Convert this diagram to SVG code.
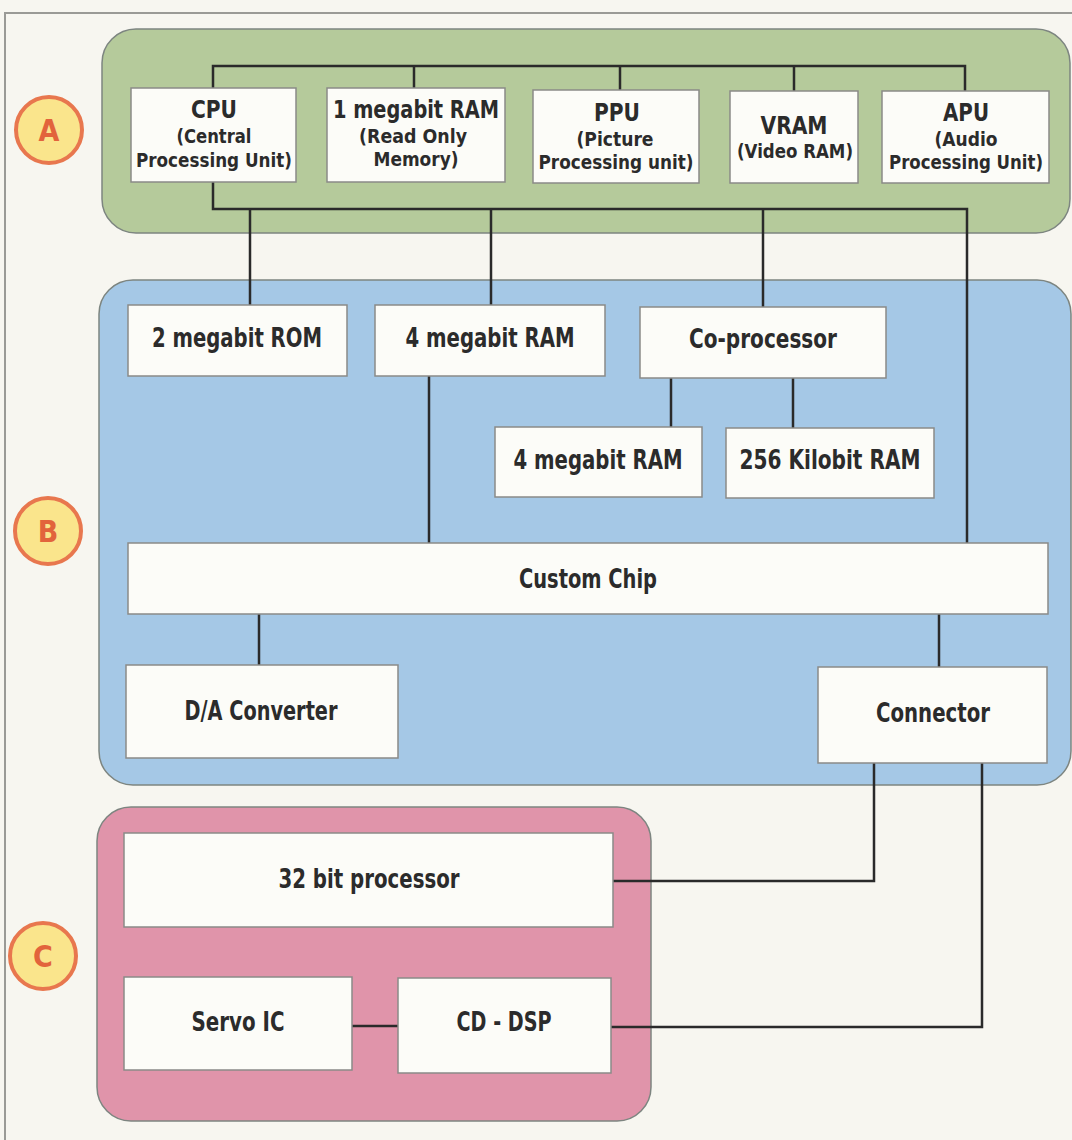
<svg xmlns="http://www.w3.org/2000/svg" width="1072" height="1140" viewBox="0 0 1072 1140">
<style>
.bg{fill:#f7f6f0}
.frame{fill:none;stroke:#9a9a96;stroke-width:2}
.panel{stroke:#7d8580;stroke-width:1.5}
.pa{fill:#b5ca9b}
.pb{fill:#a5c8e6}
.pc{fill:#e094aa}
.box{fill:#fcfcf8;stroke:#8a8a88;stroke-width:1.5}
.t{font-family:"Liberation Sans Narrow","DejaVu Sans Condensed","Liberation Sans",sans-serif;font-weight:bold;fill:#2b2b2b;text-anchor:middle}
.h{font-size:25px}
.s{font-size:20px}
.m{font-size:26px}
.wire{fill:none;stroke:#2a2a2a;stroke-width:2.5}
.badge circle{fill:#fae58c;stroke:#e8774e;stroke-width:4}
.badge text{font-family:"Liberation Sans Narrow","DejaVu Sans Condensed","Liberation Sans",sans-serif;font-weight:bold;font-size:30px;fill:#e2643c;text-anchor:middle}
</style>
<rect class="bg" x="0" y="0" width="1072" height="1140"/>
<path class="frame" d="M5,1140 V13 H1072"/>

<g id="panels">
<rect id="panel-a" class="panel pa" x="102" y="29" width="968" height="204" rx="34"/>
<rect id="panel-b" class="panel pb" x="99" y="280" width="972" height="505" rx="34"/>
<rect id="panel-c" class="panel pc" x="97" y="807" width="554" height="314" rx="34"/>
</g>

<g id="badges">
<g id="badge-a" class="badge"><circle cx="49" cy="130" r="33"/><text x="49" y="141">A</text></g>
<g id="badge-b" class="badge"><circle cx="48" cy="531" r="33"/><text x="48" y="542">B</text></g>
<g id="badge-c" class="badge"><circle cx="43" cy="956" r="33"/><text x="43" y="967">C</text></g>
</g>

<g id="connectors">
<path class="wire" d="M213,88 V66 H965 V91"/>
<path class="wire" d="M414,66 V88"/>
<path class="wire" d="M620,66 V90"/>
<path class="wire" d="M794,66 V91"/>
<path class="wire" d="M213,182 V209 H967 V543"/>
<path class="wire" d="M250,209 V305"/>
<path class="wire" d="M491,209 V305"/>
<path class="wire" d="M763,209 V307"/>
<path class="wire" d="M429,376 V543"/>
<path class="wire" d="M671,378 V428"/>
<path class="wire" d="M793,378 V428"/>
<path class="wire" d="M259,614 V665"/>
<path class="wire" d="M939,614 V667"/>
<path class="wire" d="M874,763 V881 H613"/>
<path class="wire" d="M982,763 V1027 H611"/>
<path class="wire" d="M352,1026 H398"/>
</g>

<g id="cpu"><rect class="box" x="131" y="88" width="165" height="94"/>
<text class="t h" x="214" y="118" textLength="46" lengthAdjust="spacingAndGlyphs">CPU</text>
<text class="t s" x="214" y="143" textLength="75" lengthAdjust="spacingAndGlyphs">(Central</text>
<text class="t s" x="214" y="167" textLength="156" lengthAdjust="spacingAndGlyphs">Processing Unit)</text></g>

<g id="ram1"><rect class="box" x="327" y="88" width="178" height="94"/>
<text class="t h" x="416" y="118" textLength="166" lengthAdjust="spacingAndGlyphs">1 megabit RAM</text>
<text class="t s" x="413" y="143" textLength="108" lengthAdjust="spacingAndGlyphs">(Read Only</text>
<text class="t s" x="416" y="166" textLength="85" lengthAdjust="spacingAndGlyphs">Memory)</text></g>

<g id="ppu"><rect class="box" x="533" y="90" width="166" height="93"/>
<text class="t h" x="617" y="121" textLength="46" lengthAdjust="spacingAndGlyphs">PPU</text>
<text class="t s" x="615" y="146" textLength="77" lengthAdjust="spacingAndGlyphs">(Picture</text>
<text class="t s" x="616" y="169" textLength="155" lengthAdjust="spacingAndGlyphs">Processing unit)</text></g>

<g id="vram"><rect class="box" x="730" y="91" width="128" height="92"/>
<text class="t h" x="794" y="134" textLength="67" lengthAdjust="spacingAndGlyphs">VRAM</text>
<text class="t s" x="795" y="158" textLength="116" lengthAdjust="spacingAndGlyphs">(Video RAM)</text></g>

<g id="apu"><rect class="box" x="882" y="91" width="167" height="92"/>
<text class="t h" x="966" y="121" textLength="46" lengthAdjust="spacingAndGlyphs">APU</text>
<text class="t s" x="966" y="146" textLength="63" lengthAdjust="spacingAndGlyphs">(Audio</text>
<text class="t s" x="966" y="169" textLength="154" lengthAdjust="spacingAndGlyphs">Processing Unit)</text></g>

<g id="rom2"><rect class="box" x="128" y="305" width="219" height="71"/>
<text class="t m" x="237" y="347" textLength="170" lengthAdjust="spacingAndGlyphs">2 megabit ROM</text></g>

<g id="ram4a"><rect class="box" x="375" y="305" width="230" height="71"/>
<text class="t m" x="490" y="347" textLength="169" lengthAdjust="spacingAndGlyphs">4 megabit RAM</text></g>

<g id="coproc"><rect class="box" x="640" y="307" width="246" height="71"/>
<text class="t m" x="763" y="348" textLength="148" lengthAdjust="spacingAndGlyphs">Co-processor</text></g>

<g id="ram4b"><rect class="box" x="495" y="427" width="207" height="70"/>
<text class="t m" x="598" y="469" textLength="169" lengthAdjust="spacingAndGlyphs">4 megabit RAM</text></g>

<g id="ram256"><rect class="box" x="726" y="428" width="208" height="70"/>
<text class="t m" x="830" y="469" textLength="181" lengthAdjust="spacingAndGlyphs">256 Kilobit RAM</text></g>

<g id="custom"><rect class="box" x="128" y="543" width="920" height="71"/>
<text class="t m" x="588" y="588" textLength="138" lengthAdjust="spacingAndGlyphs">Custom Chip</text></g>

<g id="dac"><rect class="box" x="126" y="665" width="272" height="93"/>
<text class="t m" x="261" y="720" textLength="153" lengthAdjust="spacingAndGlyphs">D/A Converter</text></g>

<g id="connector"><rect class="box" x="818" y="667" width="229" height="96"/>
<text class="t m" x="933" y="722" textLength="114" lengthAdjust="spacingAndGlyphs">Connector</text></g>

<g id="cpu32"><rect class="box" x="124" y="833" width="489" height="94"/>
<text class="t m" x="369" y="888" textLength="181" lengthAdjust="spacingAndGlyphs">32 bit processor</text></g>

<g id="servo"><rect class="box" x="124" y="977" width="228" height="93"/>
<text class="t m" x="238" y="1031" textLength="93" lengthAdjust="spacingAndGlyphs">Servo IC</text></g>

<g id="cddsp"><rect class="box" x="398" y="978" width="213" height="95"/>
<text class="t m" x="504" y="1031" textLength="95" lengthAdjust="spacingAndGlyphs">CD - DSP</text></g>
</svg>
